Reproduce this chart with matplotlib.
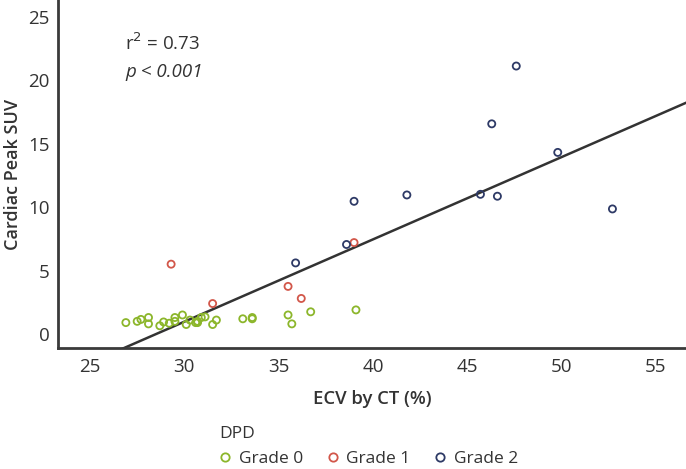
import matplotlib
matplotlib.use('Agg')
import numpy as np
import matplotlib.pyplot as plt
from matplotlib.lines import Line2D

plt.rcParams['font.family'] = ['Open Sans', 'DejaVu Sans']
text_color = '#333333'

# 数据：ECV (%) 与 心脏峰值 SUV，按 DPD 分级
grade0_x = [26.9, 27.5, 27.7, 28.1, 28.1, 28.7, 28.9, 29.2, 29.5, 29.5, 29.9, 30.1,
            30.3, 30.6, 30.7, 30.7, 30.9, 31.1, 31.5, 31.7, 33.1, 33.6, 33.6, 35.5,
            35.7, 36.7, 39.1]
grade0_y = [0.9, 1.0, 1.15, 1.3, 0.8, 0.65, 0.95, 0.85, 1.0, 1.3, 1.5, 0.75,
            1.1, 0.9, 1.0, 0.9, 1.3, 1.35, 0.75, 1.1, 1.2, 1.2, 1.3, 1.5,
            0.8, 1.75, 1.9]
grade1_x = [29.3, 31.5, 35.5, 36.2, 39.0]
grade1_y = [5.5, 2.4, 3.75, 2.8, 7.2]
grade2_x = [35.9, 38.6, 39.0, 41.8, 45.7, 46.3, 46.6, 47.6, 49.8, 52.7]
grade2_y = [5.6, 7.05, 10.45, 10.95, 11.0, 16.55, 10.85, 21.1, 14.3, 9.85]

fit_slope = 0.648
fit_intercept = -18.47

grades = ['Grade 0', 'Grade 1', 'Grade 2']
colors = ['#8cb62b', '#d2574a', '#2e3a66']

fig = plt.figure(figsize=(6.86, 4.69), dpi=100)
ax = fig.add_axes([0.0845, 0.258, 0.9155, 0.742])

for gx, gy, c in zip([grade0_x, grade1_x, grade2_x], [grade0_y, grade1_y, grade2_y], colors):
    ax.scatter(gx, gy, s=26, facecolors='none', edgecolors=c, linewidths=1.3, zorder=3)

xlim = (23.3, 56.6)
ylim = (-1.1, 26.3)
xx = np.array(xlim)
ax.plot(xx, fit_slope * xx + fit_intercept, color='#333333', lw=1.8, zorder=2)

ax.set_xlim(*xlim)
ax.set_ylim(*ylim)
ax.set_xticks([25, 30, 35, 40, 45, 50, 55])
ax.set_yticks([0, 5, 10, 15, 20, 25])
ax.tick_params(length=0, labelsize=13.5, colors=text_color)
ax.tick_params(axis='x', pad=7.5)
ax.tick_params(axis='y', pad=6)
for s in ['top', 'right']:
    ax.spines[s].set_visible(False)
for s in ['left', 'bottom']:
    ax.spines[s].set_linewidth(2)
    ax.spines[s].set_color('#3a3a3a')

ax.set_xlabel('ECV by CT (%)', fontsize=13.3, color=text_color, fontweight='semibold', labelpad=10)
ax.set_ylabel('Cardiac Peak SUV', fontsize=13, color=text_color, fontweight='semibold', labelpad=4.5)

ax.text(0.107, 0.876, r'r$^2$ = 0.73', transform=ax.transAxes, fontsize=13.5,
        color=text_color, va='center', ha='left')
ax.text(0.107, 0.793, 'p < 0.001', transform=ax.transAxes, fontsize=13.5,
        color=text_color, va='center', ha='left', style='italic')

handles = [Line2D([], [], ls='none', marker='o', markerfacecolor='none',
                  markeredgecolor=c, markersize=6, markeredgewidth=1.3) for c in colors]
leg = fig.legend(handles, grades, title='DPD', loc='lower left', bbox_to_anchor=(0.305, -0.018),
                 ncol=3, frameon=False, fontsize=12.5, title_fontsize=12.5,
                 handlelength=0.6, handletextpad=0.5, columnspacing=1.4, borderaxespad=0.2)
leg._legend_box.align = 'left'
for t in leg.get_texts():
    t.set_color(text_color)
leg.get_title().set_color(text_color)

fig.savefig('out.png', dpi=100)
